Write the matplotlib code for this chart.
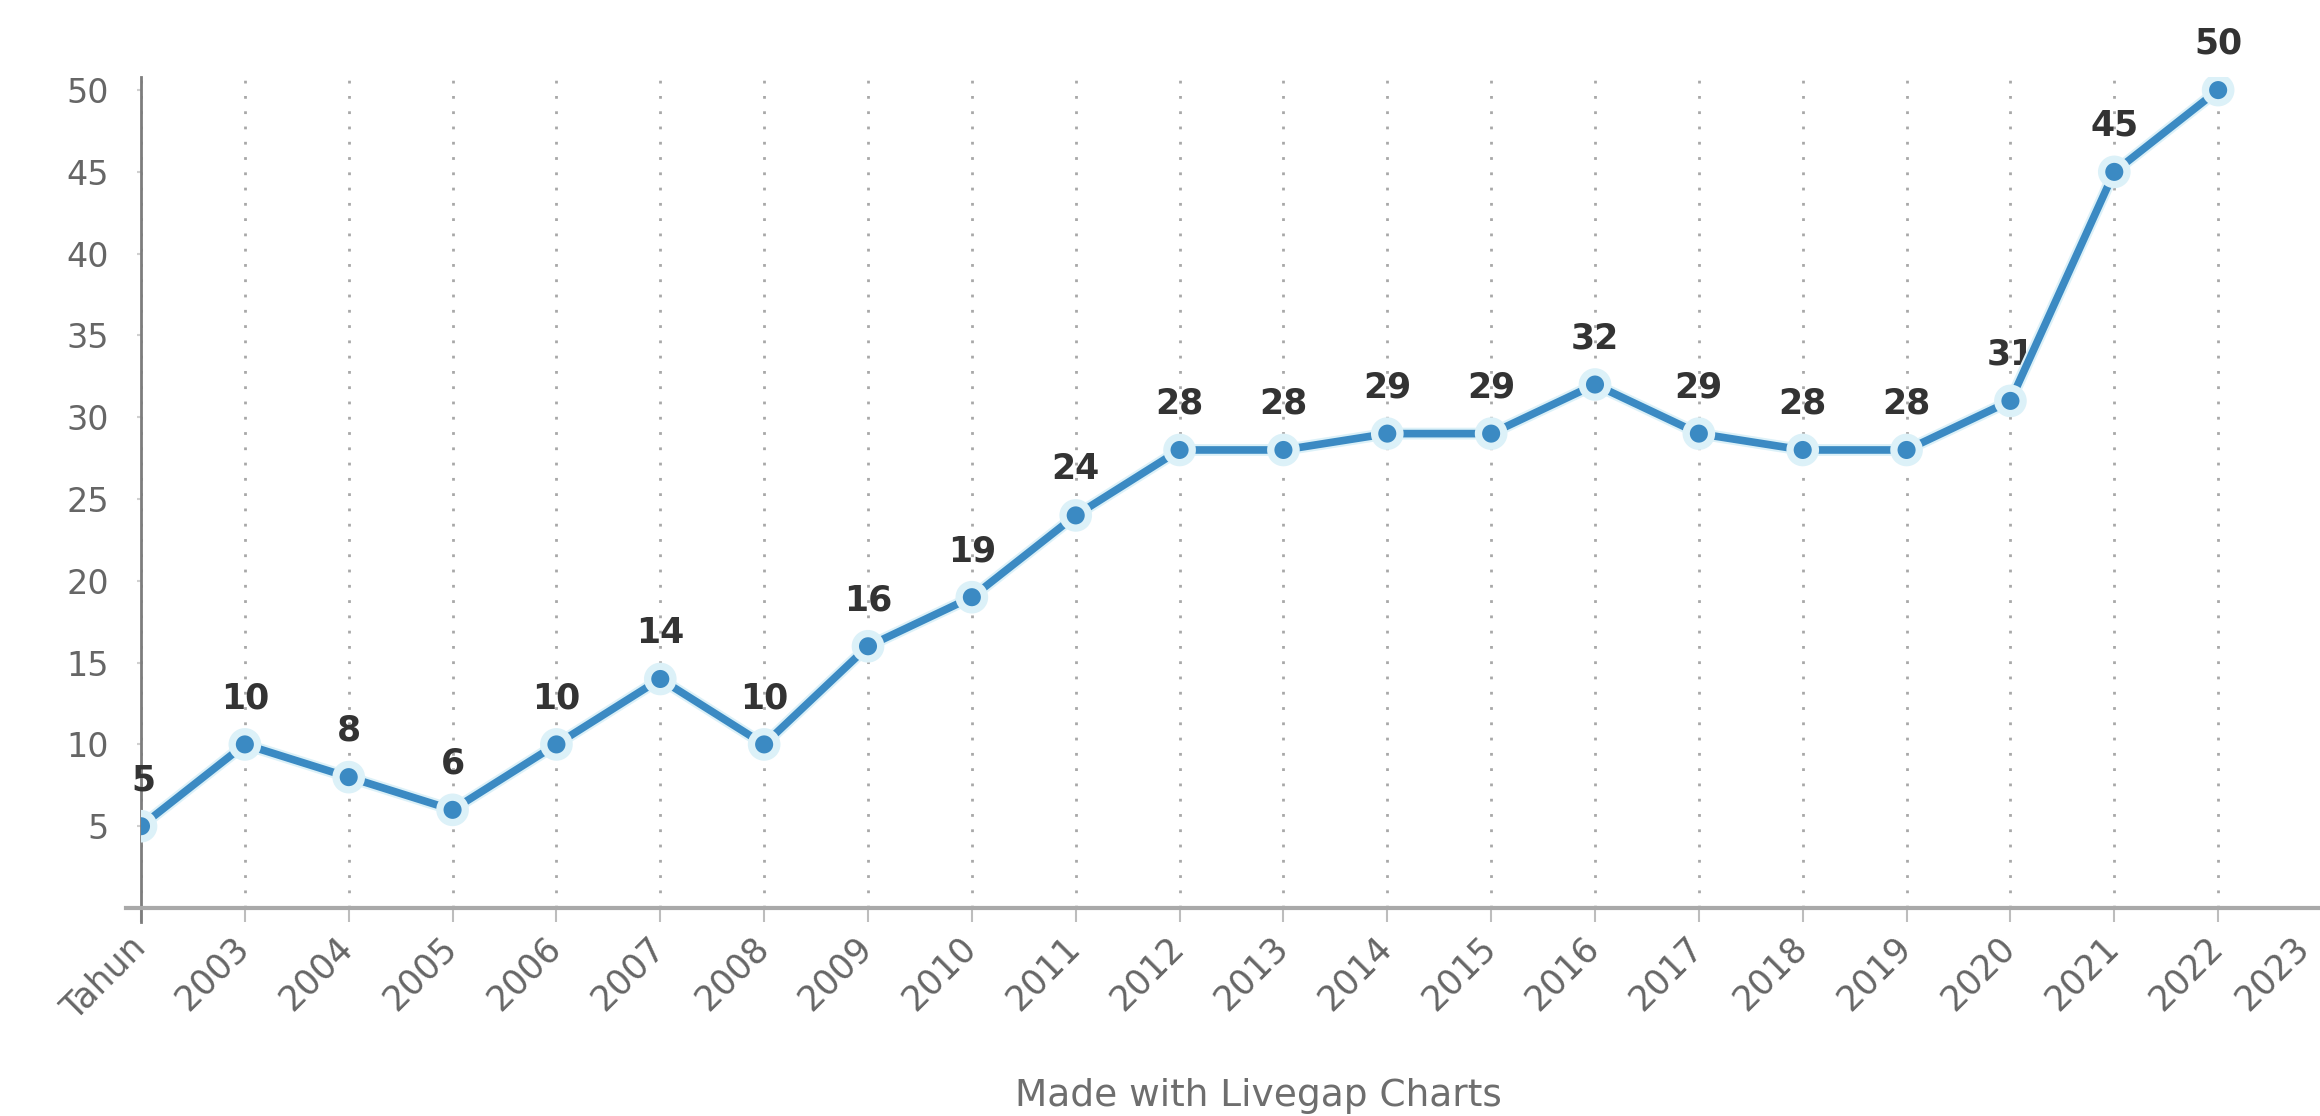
import matplotlib
matplotlib.use("Agg")
import matplotlib.pyplot as plt
import matplotlib.patheffects as pe
import matplotlib.transforms as mtransforms
from matplotlib.ticker import FixedLocator

plt.rcParams['font.family'] = ['DejaVu Sans']

# ---- data ----
categories = ["Tahun", "2003", "2004", "2005", "2006", "2007", "2008", "2009",
              "2010", "2011", "2012", "2013", "2014", "2015", "2016", "2017",
              "2018", "2019", "2020", "2021", "2022", "2023"]
values = [5, 10, 8, 6, 10, 14, 10, 16, 19, 24, 28, 28, 29, 29, 32, 29,
          28, 28, 31, 45, 50]
y_ticks = [5, 10, 15, 20, 25, 30, 35, 40, 45, 50]
y_grid = [15, 30, 45]
footer = "Made with Livegap Charts"

W, H = 2320, 1116
fig = plt.figure(figsize=(W / 100, H / 100), dpi=100)
fig.patch.set_facecolor("white")

ax_left, ax_right = 141, 2322
ax_bottom, ax_top = 908, 77
ax = fig.add_axes([ax_left / W, (H - ax_bottom) / H,
                   (ax_right - ax_left) / W, (ax_bottom - ax_top) / H])
ax.set_facecolor("white")

x = list(range(len(values)))
line_color = "#3b8ac3"
glow = "#dcf1f8"
ax.plot(x, values, color=line_color, lw=5.5, marker="o", markersize=15,
        markerfacecolor=line_color, markeredgecolor=glow, markeredgewidth=2,
        solid_capstyle="round", zorder=4,
        path_effects=[pe.Stroke(linewidth=8.5, foreground=glow), pe.Normal()])

for xi, v in zip(x, values):
    ax.annotate(str(v), (xi, v), xytext=(1.5 if xi == 0 else 0, 21),
                textcoords="offset points",
                ha="center", va="bottom", fontsize=25, fontweight="bold",
                color="#333333", zorder=3)

ax.set_xlim(0, len(categories) - 1)
ax.set_ylim(0, 50.8)

ax.set_xticks(range(len(categories)))
ax.set_xticklabels(categories, rotation=45, ha="right", va="top",
                   rotation_mode="anchor", fontsize=25, color="#666666")
ax.set_yticks(y_ticks)
ax.set_yticklabels([str(t) for t in y_ticks], fontsize=24, color="#666666")
ax.yaxis.set_minor_locator(FixedLocator(y_grid))

ax.tick_params(axis="x", length=10, width=1.5, color="#bdbdbd", pad=3)
ax.tick_params(axis="y", which="major", length=3, width=1.5, color="#d0d0d0", pad=20)
ax.tick_params(axis="y", which="minor", length=0)

labels = ax.get_xticklabels()
for i, lab in enumerate(labels):
    dx = -30 if i == len(labels) - 1 else -13
    off = mtransforms.ScaledTranslation(dx / 100, -4 / 100, fig.dpi_scale_trans)
    lab.set_transform(lab.get_transform() + off)

ax.grid(axis="x", which="major", color="#a8a8a8", lw=2,
        linestyle=(0, (1, 4.5)), zorder=1)
ax.grid(axis="y", which="minor", color="#a8a8a8", lw=2,
        linestyle=(0, (1, 6.5)), zorder=1)
ax.set_axisbelow(True)

for s in ["top", "right"]:
    ax.spines[s].set_visible(False)
ax.spines["bottom"].set_color("#a9a9a9")
ax.spines["bottom"].set_linewidth(3)
ax.spines["bottom"].set_bounds(-0.14, len(categories) - 1)
ax.spines["left"].set_color("#7d7d7d")
ax.spines["left"].set_linewidth(2)
ax.spines["left"].set_bounds(-0.85, 50.8)

fig.text(1258 / W, 10 / H, footer, ha="center", va="baseline",
         fontsize=27, color="#6e6e6e")

fig.savefig("out.png", dpi=100, facecolor="white")
